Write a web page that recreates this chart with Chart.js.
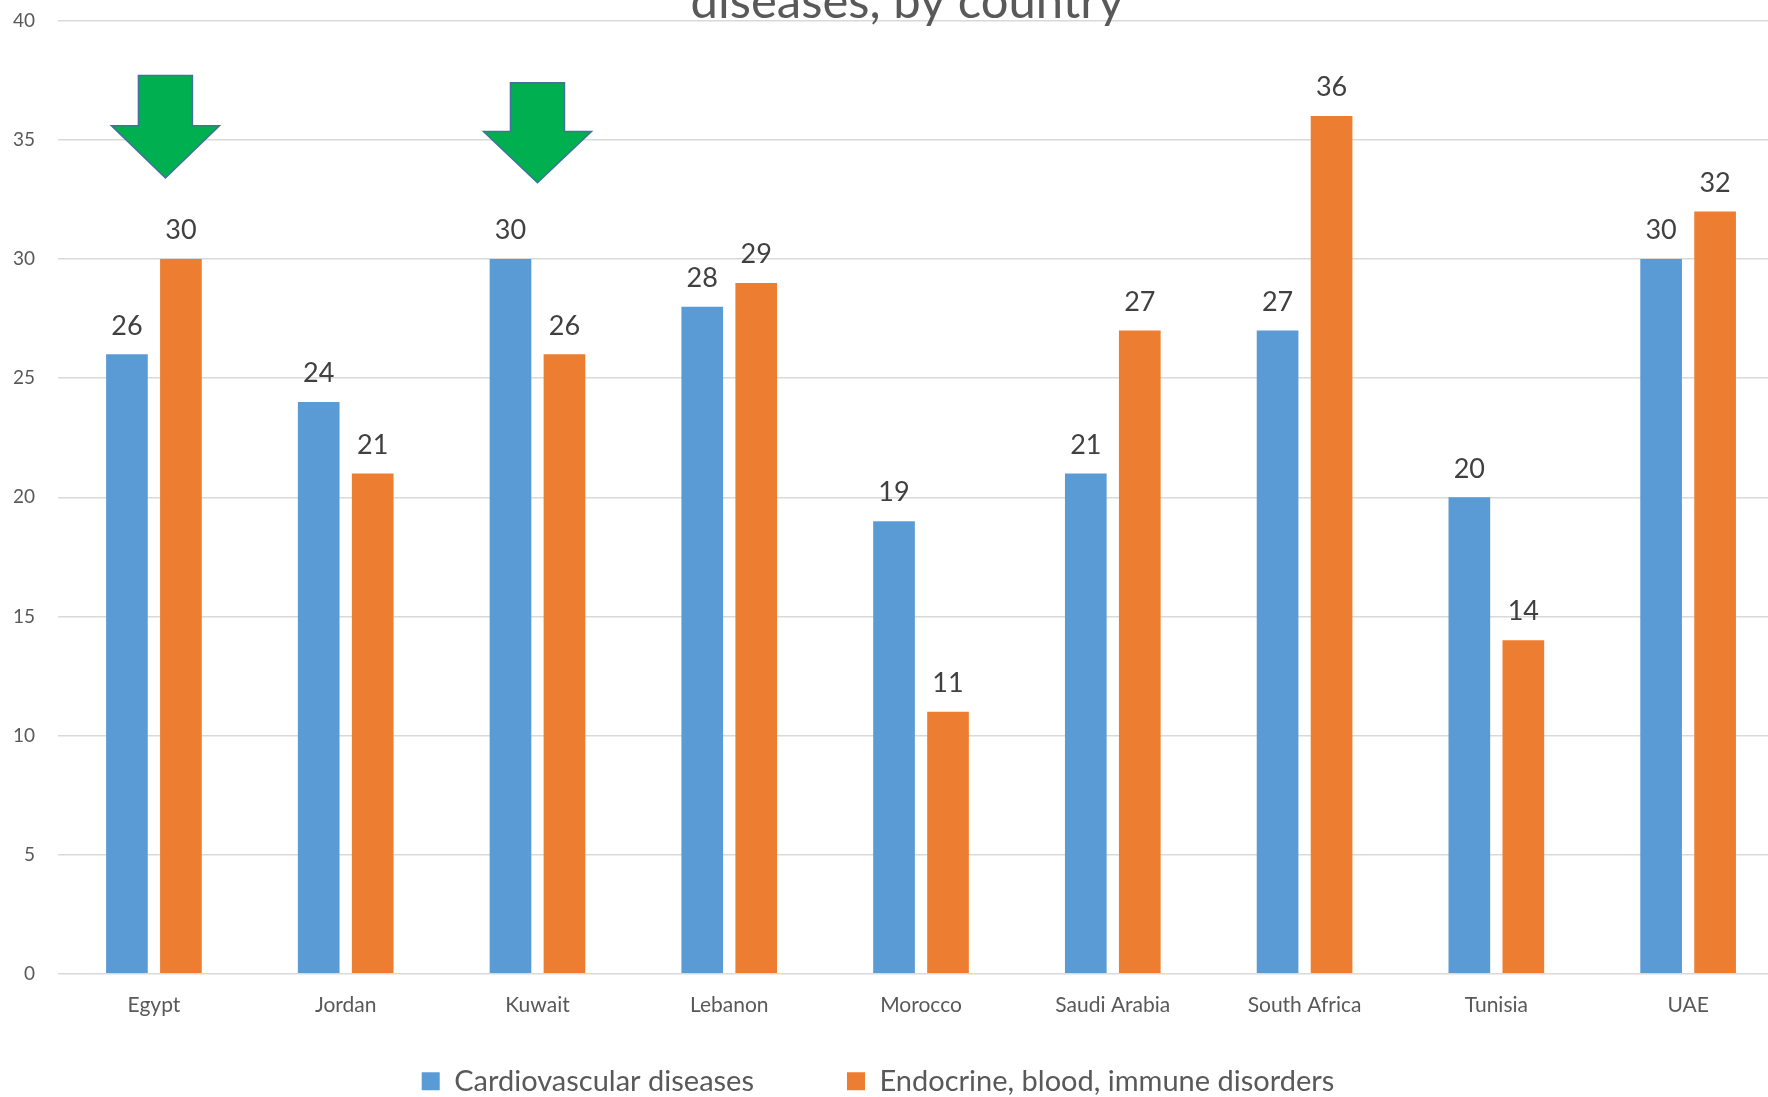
<!DOCTYPE html>
<html>
<head>
<meta charset="utf-8">
<script src="https://cdn.jsdelivr.net/npm/chart.js@4.4.1/dist/chart.umd.min.js"></script>
<style>
  html, body { margin: 0; padding: 0; background: #fff; overflow: hidden; }
  #wrap { position: absolute; left: -23px; top: -60px; width: 1813px; height: 1229px; }
</style>
</head>
<body>
<div id="wrap"><canvas id="chart"></canvas></div>
<script>
// Countries and the two disease groups
const countries = ['Egypt', 'Jordan', 'Kuwait', 'Lebanon', 'Morocco', 'Saudi Arabia', 'South Africa', 'Tunisia', 'UAE'];
const cardiovascular = [26, 24, 30, 28, 19, 21, 27, 20, 30];
const endocrine = [30, 21, 26, 29, 11, 27, 36, 14, 32];
const yTicks = [0, 5, 10, 15, 20, 25, 30, 35, 40];

// Highlight arrows: category index, and value levels for top / neck / tip
const arrows = [
    { at: 0.06, top: 37.7, neck: 35.6, tip: 33.4 },
    { at: 2.0, top: 37.4, neck: 35.35, tip: 33.2 }
];

const FONT = 'Lato, "Open Sans", sans-serif';
const LEGEND_GAP = 93;

// Value labels above each bar
const barLabels = {
    id: 'barLabels',
    afterDatasetsDraw(chart) {
        const ctx = chart.ctx;
        ctx.save();
        ctx.font = '27px ' + FONT;
        ctx.fillStyle = '#404040';
        ctx.textAlign = 'center';
        ctx.textBaseline = 'bottom';
        chart.data.datasets.forEach((ds, i) => {
            chart.getDatasetMeta(i).data.forEach((bar, j) => {
                ctx.fillText(ds.data[j], bar.x, bar.y - 15);
            });
        });
        ctx.restore();
    }
};

// Green down arrows
const downArrows = {
    id: 'downArrows',
    afterDatasetsDraw(chart) {
        const ctx = chart.ctx;
        const x = chart.scales.x, y = chart.scales.y;
        ctx.save();
        arrows.forEach(a => {
            const cx = x.getPixelForValue(a.at);
            const top = y.getPixelForValue(a.top);
            const neck = y.getPixelForValue(a.neck);
            const tip = y.getPixelForValue(a.tip);
            const shaft = 27, head = 54;
            ctx.beginPath();
            ctx.moveTo(cx - shaft, top);
            ctx.lineTo(cx + shaft, top);
            ctx.lineTo(cx + shaft, neck);
            ctx.lineTo(cx + head, neck);
            ctx.lineTo(cx, tip);
            ctx.lineTo(cx - head, neck);
            ctx.lineTo(cx - shaft, neck);
            ctx.closePath();
            ctx.fillStyle = '#00B050';
            ctx.fill();
            ctx.lineWidth = 1.5;
            ctx.strokeStyle = '#41719C';
            ctx.stroke();
        });
        ctx.restore();
    }
};

// Nudge title and legend boxes after layout:
// the wide item spacing also pads the legend from above, so pull it back up
const boxNudge = {
    id: 'boxNudge',
    afterLayout(chart) {
        const lift = LEGEND_GAP - 40 + 2.2;
        const lg = chart.legend;
        lg.top -= lift;
        lg.bottom -= lift;
        lg.left -= 9;
        lg.right -= 9;
        const tb = chart.titleBlock;
        tb.left += 20;
        tb.right += 20;
    }
};

new Chart(document.getElementById('chart'), {
    type: 'bar',
    data: {
        labels: countries,
        datasets: [
            {
                label: 'Cardiovascular diseases',
                data: cardiovascular,
                backgroundColor: '#5B9BD5'
            },
            {
                label: 'Endocrine, blood, immune disorders',
                data: endocrine,
                backgroundColor: '#ED7D31'
            }
        ]
    },
    options: {
        responsive: true,
        maintainAspectRatio: false,
        animation: false,
        categoryPercentage: 0.563,
        barPercentage: 0.772,
        layout: { padding: { left: 13, right: 6, top: 0, bottom: 8 } },
        plugins: {
            title: {
                display: true,
                text: 'diseases, by country',
                color: '#595959',
                font: { family: FONT, size: 49, weight: 'normal' },
                padding: { top: 33, bottom: -11 }
            },
            legend: {
                position: 'bottom',
                labels: {
                    color: '#595959',
                    font: { family: FONT, size: 29 },
                    boxWidth: 18,
                    boxHeight: 18,
                    padding: LEGEND_GAP
                }
            },
            tooltip: { enabled: false }
        },
        scales: {
            x: {
                grid: { display: false },
                border: { display: false },
                ticks: {
                    color: '#595959',
                    font: { family: FONT, size: 21 },
                    padding: 11,
                    maxRotation: 0
                }
            },
            y: {
                min: 0,
                max: 40,
                afterBuildTicks(axis) {
                    axis.ticks = yTicks.map(v => ({ value: v }));
                },
                grid: { color: '#D9D9D9', lineWidth: 1.5, drawTicks: false },
                border: { display: false },
                ticks: {
                    color: '#595959',
                    font: { family: FONT, size: 19 },
                    padding: 23
                }
            }
        }
    },
    plugins: [barLabels, downArrows, boxNudge]
});
</script>
</body>
</html>
